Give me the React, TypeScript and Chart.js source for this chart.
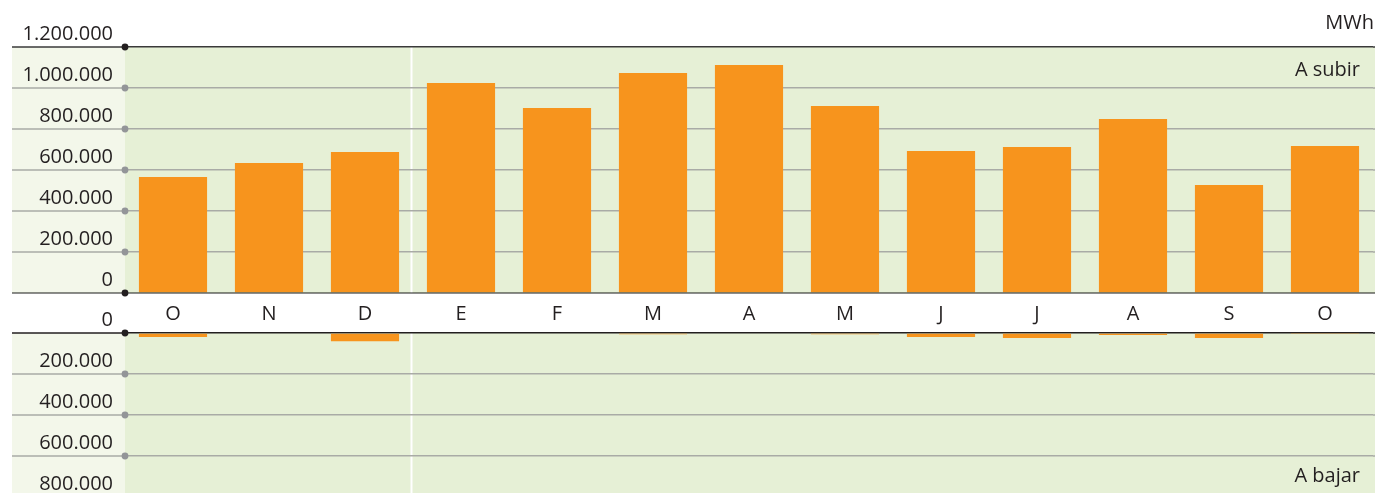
import { useEffect, useRef } from 'react';
import { Chart, registerables } from 'chart.js';

Chart.register(...registerables);

// ---- data ----
const months = ['O', 'N', 'D', 'E', 'F', 'M', 'A', 'M', 'J', 'J', 'A', 'S', 'O'];
const aSubir = [566000, 634000, 688000, 1024000, 902000, 1073000, 1112000, 912000, 693000, 712000, 849000, 527000, 717000];
const aBajar = [20000, 0, 40000, 0, 0, 6000, 0, 6000, 19000, 24000, 10000, 24000, 5000];
const subirTicks = [0, 200000, 400000, 600000, 800000, 1000000, 1200000];
const bajarTicks = [0, 200000, 400000, 600000, 800000];
const unitLabel = 'MWh';
const upLabel = 'A subir';
const downLabel = 'A bajar';

// ---- styles ----
const FONT = '"Open Sans", "Noto Sans", sans-serif';
const FONT_SIZE = 20;
const TEXT = '#231f20';
const GREEN = '#e6f0d6';
const PALE = '#f3f7ea';
const ORANGE = '#f7941d';
const GRID = '#a9aba6';
const DARK = '#231f20';
const TOPLINE = '#3a3a3a';
const DOT_GRAY = '#939598';
const ZERO_OVER = 'rgba(0,0,0,0.45)';
const LEFT_EDGE = 12;

const fmt = (v: number) => Math.round(v).toString().replace(/\B(?=(\d{3})+(?!\d))/g, '.');

function hline(ctx: CanvasRenderingContext2D, x1: number, x2: number, y: number, color: string, w: number) {
  ctx.beginPath();
  ctx.strokeStyle = color;
  ctx.lineWidth = w;
  ctx.moveTo(x1, y);
  ctx.lineTo(x2, y);
  ctx.stroke();
}

function dot(ctx: CanvasRenderingContext2D, x: number, y: number, color: string) {
  ctx.beginPath();
  ctx.fillStyle = color;
  ctx.arc(x, y, 3.4, 0, Math.PI * 2);
  ctx.fill();
}

function drawBackground(chart: any, bottom: number) {
  const { ctx, chartArea: a, width } = chart;
  ctx.save();
  ctx.fillStyle = PALE;
  ctx.fillRect(LEFT_EDGE, a.top, a.left - LEFT_EDGE + 1, bottom - a.top);
  ctx.fillStyle = GREEN;
  ctx.fillRect(a.left, a.top, width - a.left, bottom - a.top);
  const xs = chart.scales.x;
  const sx = (xs.getPixelForValue(2) + xs.getPixelForValue(3)) / 2 - 1.5;
  ctx.strokeStyle = '#ffffff';
  ctx.lineWidth = 2;
  ctx.beginPath();
  ctx.moveTo(sx, a.top);
  ctx.lineTo(sx, bottom);
  ctx.stroke();
  ctx.restore();
}

function drawText(ctx: CanvasRenderingContext2D, text: string, x: number, y: number) {
  ctx.save();
  ctx.font = `${FONT_SIZE}px ${FONT}`;
  ctx.fillStyle = TEXT;
  ctx.textAlign = 'right';
  ctx.textBaseline = 'middle';
  ctx.fillText(text, x, y);
  ctx.restore();
}

const topPlugin = {
  id: 'topPanel',
  beforeDraw(chart: any) {
    drawBackground(chart, chart.chartArea.bottom);
  },
  afterDatasetsDraw(chart: any) {
    const { ctx, chartArea: a, width } = chart;
    const ys = chart.scales.y;
    ctx.save();
    ys.ticks.forEach((t: any) => {
      const y = ys.getPixelForValue(t.value);
      if (t.value === 0) {
        hline(ctx, LEFT_EDGE, width, y, ZERO_OVER, 2);
      } else {
        const c = t.value === ys.max ? TOPLINE : GRID;
        hline(ctx, LEFT_EDGE, a.left, y, c, 1.5);
        hline(ctx, a.right, width, y, c, 1.5);
      }
    });
    ctx.restore();
  },
  afterDraw(chart: any) {
    const { ctx, chartArea: a, width } = chart;
    const ys = chart.scales.y;
    ctx.save();
    ys.ticks.forEach((t: any) => {
      const y = ys.getPixelForValue(t.value);
      dot(ctx, a.left, y, t.value === 0 || t.value === ys.max ? DARK : DOT_GRAY);
    });
    ctx.restore();
    drawText(ctx, unitLabel, width - 1, a.top - 24);
    drawText(ctx, upLabel, width - 15, a.top + 23);
  },
};

const bottomPlugin = {
  id: 'bottomPanel',
  beforeDraw(chart: any) {
    drawBackground(chart, chart.height);
  },
  afterDatasetsDraw(chart: any) {
    const { ctx, chartArea: a, width } = chart;
    const ys = chart.scales.y;
    ctx.save();
    ys.ticks.forEach((t: any) => {
      const y = ys.getPixelForValue(t.value);
      const c = t.value === 0 ? DARK : GRID;
      hline(ctx, LEFT_EDGE, a.left, y, c, 1.5);
      hline(ctx, a.right, width, y, c, 1.5);
    });
    ctx.restore();
  },
  afterDraw(chart: any) {
    const { ctx, chartArea: a, width } = chart;
    const ys = chart.scales.y;
    ctx.save();
    ys.ticks.forEach((t: any) => {
      const y = ys.getPixelForValue(t.value);
      dot(ctx, a.left, y, t.value === 0 ? DARK : DOT_GRAY);
    });
    ctx.restore();
    drawText(ctx, downLabel, width - 15, a.bottom - 21);
  },
};

const yAfterFit = (scale: any) => {
  scale.width = 125;
  scale.paddingTop = 0;
  scale.paddingBottom = 0;
};

export default function App() {
  const topRef = useRef<HTMLCanvasElement>(null);
  const botRef = useRef<HTMLCanvasElement>(null);

  useEffect(() => {
    const tickFont = { family: FONT, size: FONT_SIZE };
    const top = new Chart(topRef.current as HTMLCanvasElement, {
      type: 'bar',
      data: {
        labels: months,
        datasets: [
          {
            label: upLabel,
            data: aSubir,
            backgroundColor: ORANGE,
            borderWidth: 0,
            categoryPercentage: 1,
            barPercentage: 0.71,
          },
        ],
      },
      options: {
        responsive: false,
        animation: false,
        devicePixelRatio: 1,
        events: [],
        layout: { padding: { top: 47, right: 2, left: 0, bottom: 0 } },
        plugins: { legend: { display: false }, tooltip: { enabled: false } },
        scales: {
          x: {
            type: 'category',
            grid: { display: false, drawTicks: false },
            border: { display: false },
            ticks: { font: tickFont, color: TEXT, padding: 9, maxRotation: 0, autoSkip: false },
            afterFit: (scale: any) => {
              scale.height = 40;
              scale.paddingLeft = 0;
              scale.paddingRight = 0;
            },
          },
          y: {
            min: subirTicks[0],
            max: subirTicks[subirTicks.length - 1],
            grid: {
              drawTicks: false,
              lineWidth: 1.5,
              color: (c: any) =>
                c.tick.value === 0 ? 'rgba(0,0,0,0)' : c.tick.value === subirTicks[subirTicks.length - 1] ? TOPLINE : GRID,
            },
            border: { display: false },
            ticks: {
              stepSize: subirTicks[1] - subirTicks[0],
              font: tickFont,
              color: TEXT,
              padding: 12,
              labelOffset: -13,
              callback: (v: any) => fmt(Number(v)),
            },
            afterFit: yAfterFit,
          },
        },
      },
      plugins: [topPlugin],
    });

    const bot = new Chart(botRef.current as HTMLCanvasElement, {
      type: 'bar',
      data: {
        labels: months,
        datasets: [
          {
            label: downLabel,
            data: aBajar,
            backgroundColor: ORANGE,
            borderWidth: 0,
            categoryPercentage: 1,
            barPercentage: 0.71,
          },
        ],
      },
      options: {
        responsive: false,
        animation: false,
        devicePixelRatio: 1,
        events: [],
        layout: { padding: { top: 39, right: 2, left: 0, bottom: 7 } },
        plugins: { legend: { display: false }, tooltip: { enabled: false } },
        scales: {
          x: { type: 'category', display: false },
          y: {
            reverse: true,
            min: bajarTicks[0],
            max: bajarTicks[bajarTicks.length - 1],
            grid: {
              drawTicks: false,
              lineWidth: 1.5,
              color: (c: any) => (c.tick.value === 0 ? DARK : GRID),
            },
            border: { display: false },
            ticks: {
              stepSize: bajarTicks[1] - bajarTicks[0],
              font: tickFont,
              color: TEXT,
              padding: 12,
              labelOffset: -13,
              callback: (v: any) => fmt(Number(v)),
            },
            afterFit: yAfterFit,
          },
        },
      },
      plugins: [bottomPlugin],
    });

    return () => {
      top.destroy();
      bot.destroy();
    };
  }, []);

  return (
    <div
      style={{
        position: 'fixed',
        left: 0,
        top: 0,
        width: 1375,
        height: 493,
        overflow: 'hidden',
        background: '#ffffff',
      }}
    >
      <canvas
        ref={topRef}
        width={1375}
        height={333}
        style={{ position: 'absolute', left: 0, top: 0, width: 1375, height: 333, display: 'block' }}
      />
      <canvas
        ref={botRef}
        width={1375}
        height={210}
        style={{ position: 'absolute', left: 0, top: 294, width: 1375, height: 210, display: 'block' }}
      />
    </div>
  );
}
